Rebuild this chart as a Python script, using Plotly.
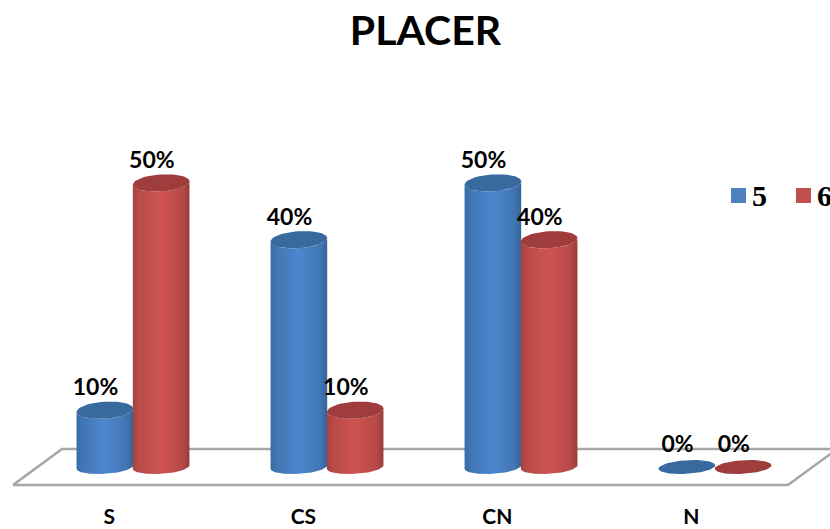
import numpy as np
import plotly.graph_objects as go

# Chart data
categories = ["S", "CS", "CN", "N"]
series_names = ["5", "6"]
values_5 = [10, 40, 50, 0]
values_6 = [50, 10, 40, 0]

# Cylinder geometry, in axis units
BAR_OFFSET = 0.145
HALF_WIDTH = 0.146
CAP_HALF_HEIGHT = 1.5
FLAT_HALF_HEIGHT = 1.2
CAP_TILT = 0.3
LABEL_SHIFT = -0.048
LABEL_LIFT = 3.6
TICK_SHIFT = -0.122

BLUE_SCALE = [[0, "#3a6da6"], [0.12, "#4176b3"], [0.5, "#4c87cf"], [0.88, "#4176b3"], [1, "#34639a"]]
RED_SCALE = [[0, "#a34341"], [0.12, "#b94b48"], [0.5, "#cf5451"], [0.88, "#b54946"], [1, "#973d3b"]]
BLUE_CAP = "#38699f"
RED_CAP = "#9e3d3b"

FLOOR_X = [-0.6186, -0.366, 3.63, 3.376, -0.6186]
FLOOR_Y = [-3.17, 3.17, 3.17, -3.17, -3.17]

PLOT_HEIGHT = 502


def ellipse(cx, cy, half_height, start, stop, n=60):
    t = np.linspace(start, stop, n)
    return (
        cx + HALF_WIDTH * np.cos(t),
        cy + half_height * np.sin(t) + CAP_TILT * np.cos(t),
    )


def add_cylinder(fig, cx, value, scale, cap):
    cap_height = CAP_HALF_HEIGHT if value > 0 else FLAT_HALF_HEIGHT
    if value > 0:
        # Body: lower arc of the base, then back along the lower arc of the cap
        bx, by = ellipse(cx, 0, FLAT_HALF_HEIGHT, np.pi, 2 * np.pi)
        tx, ty = ellipse(cx, value, cap_height, 2 * np.pi, np.pi)
        fig.add_trace(go.Scatter(
            x=np.concatenate([bx, tx]), y=np.concatenate([by, ty]),
            mode="lines", line=dict(width=0), fill="toself",
            fillgradient=dict(type="horizontal", colorscale=scale),
            hoverinfo="skip", showlegend=False,
        ))
    ex, ey = ellipse(cx, value, cap_height, 0, 2 * np.pi)
    fig.add_trace(go.Scatter(
        x=ex, y=ey, mode="lines", line=dict(width=0), fill="toself",
        fillcolor=cap, hoverinfo="skip", showlegend=False,
    ))


fig = go.Figure()

# Floor of the chart
fig.add_trace(go.Scatter(
    x=FLOOR_X, y=FLOOR_Y, mode="lines",
    line=dict(color="#a6a6a6", width=2.5),
    hoverinfo="skip", showlegend=False,
))

label_x, label_y, label_text = [], [], []
for i in range(len(categories)):
    add_cylinder(fig, i - BAR_OFFSET, values_5[i], BLUE_SCALE, BLUE_CAP)
    add_cylinder(fig, i + BAR_OFFSET, values_6[i], RED_SCALE, RED_CAP)
    for off, val in ((-BAR_OFFSET, values_5[i]), (BAR_OFFSET, values_6[i])):
        label_x.append(i + off + LABEL_SHIFT)
        label_y.append(val + LABEL_LIFT)
        label_text.append(f"{val}%")

fig.add_trace(go.Scatter(
    x=label_x, y=label_y, text=label_text, mode="text",
    textposition="middle center",
    textfont=dict(family="Lato", size=23, color="#000000", weight="bold"),
    hoverinfo="skip", showlegend=False,
))

# Legend swatches and names, running off the right edge of the page
legend_items = [(series_names[0], "#4f81bd", 731, 750), (series_names[1], "#c0504d", 796, 815)]
for name, color, sx, tx in legend_items:
    fig.add_shape(
        type="rect", xref="paper", yref="paper",
        x0=sx / 830, x1=(sx + 15) / 830,
        y0=1 - 203 / PLOT_HEIGHT, y1=1 - 188 / PLOT_HEIGHT,
        fillcolor=color, line=dict(width=0),
    )
    fig.add_annotation(
        xref="paper", yref="paper", x=tx / 830, y=1 - 195 / PLOT_HEIGHT,
        text=f"<b>{name}</b>", showarrow=False,
        xanchor="left", yanchor="middle",
        font=dict(family="Liberation Serif", size=30, color="#000000"),
    )

fig.update_layout(
    width=830, height=529,
    margin=dict(l=0, r=0, t=0, b=529 - PLOT_HEIGHT),
    paper_bgcolor="#ffffff", plot_bgcolor="#ffffff",
    showlegend=False,
    title=dict(
        text="<b>PLACER</b>", x=425.5 / 830, xanchor="center",
        y=1 - 31 / 529, yanchor="middle",
        font=dict(family="Lato", size=41, color="#000000"),
    ),
    xaxis=dict(
        range=[-0.6856, 3.5928], tickmode="array",
        tickvals=[i + TICK_SHIFT for i in range(len(categories))], ticktext=categories,
        tickfont=dict(family="Lato", size=21, color="#000000", weight="bold"),
        showgrid=False, zeroline=False, showline=False, ticks="", automargin=False,
    ),
    yaxis=dict(range=[-6.16, 82.2], visible=False),
)

fig.write_html("out.html")
